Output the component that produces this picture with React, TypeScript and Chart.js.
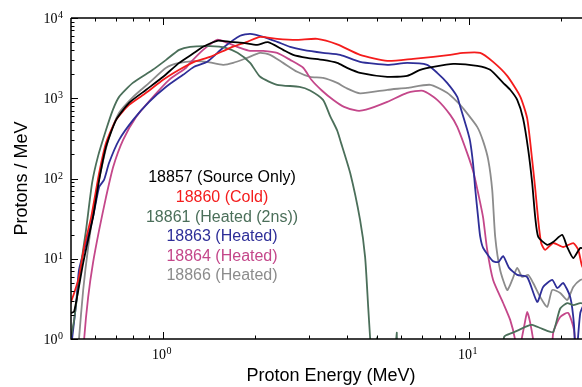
import React, { useEffect, useRef } from "react";
import { Chart, registerables } from "chart.js";

Chart.register(...registerables);

// ---- Data: [energy (MeV), protons / MeV] ----
const S18857: [number, number][] = [
  [0.497, 2.1], [0.512, 2.2], [0.548, 8.9], [0.59, 33], [0.618, 96], [0.651, 248], [0.702, 538],
  [0.774, 876], [0.88, 1275], [1.0, 1850], [1.128, 2760], [1.263, 3680], [1.351, 4375], [1.501, 5200],
  [1.656, 5050], [1.826, 4910], [2.028, 4630], [2.2, 5000], [2.466, 4010], [2.66, 3475], [2.955, 3190],
  [3.33, 3010], [3.704, 2760], [3.99, 2395], [4.4, 2075], [5.4, 1850], [6.27, 1900], [6.92, 2260],
  [7.63, 2465], [8.87, 2685], [10.62, 2535], [11.71, 2260], [12.91, 1555], [13.61, 1275], [14.35, 955],
  [15.0, 560], [15.59, 228], [16.06, 88], [16.43, 33], [16.81, 18.7], [17.98, 14.9], [18.81, 16.2],
  [20.13, 19.8], [20.9, 14.0], [21.88, 10.2], [23.06, 13.6], [24.0, 12.9], [25.0, 12],
];
const S18860: [number, number][] = [
  [0.493, 2.5], [0.512, 3.75], [0.531, 5.9], [0.552, 14], [0.582, 33], [0.618, 117], [0.651, 278],
  [0.702, 538], [0.774, 827], [0.88, 1168], [1.0, 1695], [1.128, 2260], [1.263, 2840], [1.424, 3280],
  [1.656, 4250], [1.882, 5050], [2.075, 5830], [2.358, 5500], [2.741, 5350], [3.186, 5500], [3.704, 4700],
  [4.4, 3475], [5.4, 2925], [6.56, 3100], [7.63, 3280], [8.67, 3475], [9.55, 3680], [10.86, 3680],
  [11.97, 2840], [13.31, 1900], [14.68, 1050], [15.47, 560], [16.06, 170], [16.43, 75], [16.81, 30],
  [17.18, 15.7], [17.7, 12.9], [18.81, 15.7], [20.28, 14.0], [21.88, 15.7], [22.72, 12.9], [23.4, 8.0],
  [24.5, 6],
];
const S18861: [number, number][] = [
  [0.5, 1.06], [0.512, 1.73], [0.54, 8.9], [0.56, 22.9], [0.586, 88], [0.612, 186], [0.651, 404],
  [0.685, 717], [0.718, 1041], [0.796, 1555], [0.925, 2260], [1.023, 3010], [1.128, 4010], [1.225, 4375],
  [1.424, 4450], [1.6, 4250], [1.75, 3680], [1.924, 2760], [2.075, 1850], [2.358, 1470], [2.79, 1390],
  [3.02, 1250], [3.33, 955], [3.513, 600], [3.7, 400], [3.79, 300], [4.085, 117], [4.4, 30.5],
  [4.57, 10.5], [4.677, 2.51], [4.75, 0.97], [4.85, 0.3], [4.95, 0.3], [4.99, 1.05], [5.03, 0.3],
  [5.75, 0.3], [5.8, 1.2], [5.85, 0.3], [12.6, 0.3], [13.0, 1.06], [13.82, 1.19], [15.47, 1.45],
  [16.06, 1.5], [17.06, 1.37], [17.98, 1.26], [18.81, 1.22], [19.83, 2.4], [20.9, 2.8], [21.88, 2.65],
  [23.06, 2.8], [24.5, 2.7],
];
const S18863: [number, number][] = [
  [0.497, 0.6], [0.504, 1.0], [0.52, 2.81], [0.531, 7.25], [0.56, 15.7], [0.59, 33], [0.618, 78.6],
  [0.641, 96], [0.666, 157], [0.718, 303], [0.798, 538], [0.9, 902], [1.023, 1390], [1.162, 1960],
  [1.263, 2465], [1.393, 2840], [1.57, 4250], [1.785, 6000], [1.924, 6350], [2.122, 5830], [2.358, 5050],
  [2.6, 4375], [2.868, 4010], [3.33, 3680], [3.788, 3475], [4.4, 2840], [5.4, 2610], [6.27, 2760],
  [7.29, 2610], [7.86, 2075], [8.47, 1555], [9.14, 1041], [9.35, 781], [9.85, 404], [10.07, 290],
  [10.3, 150], [10.46, 75], [10.7, 32], [10.86, 19], [11.11, 13.6], [11.97, 9.3], [12.46, 9.1],
  [12.91, 10.8], [13.5, 7.7], [14.35, 6.3], [15.47, 5.9], [16.68, 2.9], [17.44, 4.45], [18.67, 5.44],
  [19.4, 4.3], [20.28, 5.0], [21.38, 3.34], [22.0, 1.5], [22.3, 0.5], [23.06, 2.1], [24.0, 3.0],
];
const S18864: [number, number][] = [
  [0.548, 0.5], [0.552, 1.0], [0.569, 3.34], [0.59, 8.87], [0.618, 22.9], [0.651, 59], [0.687, 140],
  [0.74, 303], [0.816, 586], [0.927, 1041], [1.046, 1695], [1.189, 2395], [1.225, 2760], [1.351, 4010],
  [1.501, 5350], [1.619, 4910], [1.785, 4250], [1.924, 3900], [2.122, 3900], [2.358, 3680], [2.6, 3010],
  [2.868, 2400], [3.05, 1700], [3.3, 1250], [3.6, 950], [3.9, 780], [4.3, 700], [4.6, 720], [5.4, 902],
  [6.27, 1168], [7.07, 1237], [7.86, 955], [8.67, 621], [9.14, 440], [9.85, 207], [10.34, 117],
  [10.86, 50], [11.11, 32], [11.45, 12.9], [11.97, 5.44], [12.91, 2.81], [13.61, 1.73], [14.13, 0.97],
  [14.4, 0.5], [14.68, 0.8], [15.2, 1.6], [15.47, 2.17], [15.82, 1.6], [16.3, 0.8], [16.7, 0.3],
  [18.3, 0.3], [18.81, 1.19], [19.83, 1.88], [21.06, 2.11], [22.0, 1.3], [22.5, 0.5], [23.5, 0.3],
];
const S18866: [number, number][] = [
  [0.525, 0.5], [0.531, 1.0], [0.548, 4.08], [0.569, 14.0], [0.595, 44], [0.627, 128], [0.666, 330],
  [0.718, 658], [0.798, 1041], [0.9, 1555], [1.023, 2400], [1.128, 2750], [1.263, 2900], [1.393, 2840],
  [1.57, 2610], [1.694, 2760], [1.882, 3190], [2.075, 3680], [2.237, 3475], [2.466, 2760], [2.741, 2135],
  [3.021, 1850], [3.33, 1795], [3.704, 1555], [3.95, 1350], [4.4, 1150], [5.4, 1275], [6.27, 1350],
  [7.46, 1470], [8.47, 1168], [9.14, 902], [9.55, 750], [10.62, 440], [11.11, 290], [11.54, 171],
  [11.89, 72], [12.16, 18.7], [12.62, 7.25], [13.31, 4.08], [13.82, 5.44], [14.35, 7.68], [14.9, 5.93],
  [15.59, 6.28], [16.18, 4.99], [17.06, 3.34], [17.98, 2.51], [18.67, 4.08], [19.83, 3.75], [20.9, 3.06],
  [21.88, 4.45], [23.06, 5.44], [24.0, 5.6],
];

const LABELS = [
  "18857 (Source Only)",
  "18860 (Cold)",
  "18861 (Heated (2ns))",
  "18863 (Heated)",
  "18864 (Heated)",
  "18866 (Heated)",
];
const COLORS = ["#000000", "#f41c1c", "#4b6f5a", "#2e2e98", "#c4478a", "#8c8c8c"];
const SERIES = [S18857, S18860, S18861, S18863, S18864, S18866];

const X_MIN = 0.5;
const X_MAX = 25;
const Y_MIN = 1;
const Y_MAX = 10000;
const X_MAJOR = [1, 10];
const X_MAJOR_EXP = ["0", "1"];
const X_MINOR = [0.6, 0.7, 0.8, 0.9, 2, 3, 4, 5, 6, 7, 8, 9, 20];
const Y_MAJOR = [1, 10, 100, 1000, 10000];
const Y_MAJOR_EXP = ["0", "1", "2", "3", "4"];
const Y_MINOR_MULT = [2, 3, 4, 5, 6, 7, 8, 9];

const X_TITLE = "Proton Energy (MeV)";
const Y_TITLE = "Protons / MeV";

const SANS = '"Liberation Sans", Arial, Helvetica, sans-serif';
const SERIF = '"Liberation Serif", "Times New Roman", serif';

const axesPlugin = {
  id: "mplAxes",
  afterDatasetsDraw(chart: any) {
    const { ctx, chartArea: a, scales } = chart;
    const xs = scales.x;
    const ys = scales.y;
    ctx.save();
    ctx.strokeStyle = "#000";
    ctx.lineWidth = 1.5;
    ctx.beginPath();
    ctx.moveTo(a.left, a.top);
    ctx.lineTo(a.right, a.top);
    ctx.moveTo(a.left, a.top);
    ctx.lineTo(a.left, a.bottom);
    ctx.lineTo(a.right, a.bottom);
    ctx.stroke();

    ctx.lineWidth = 1;
    const tick = (x1: number, y1: number, x2: number, y2: number) => {
      ctx.beginPath();
      ctx.moveTo(x1, y1);
      ctx.lineTo(x2, y2);
      ctx.stroke();
    };
    X_MAJOR.forEach((v) => {
      const px = Math.round(xs.getPixelForValue(v)) + 0.5;
      tick(px, a.bottom, px, a.bottom - 7);
      tick(px, a.top, px, a.top + 7);
    });
    X_MINOR.forEach((v) => {
      const px = Math.round(xs.getPixelForValue(v)) + 0.5;
      tick(px, a.bottom, px, a.bottom - 3.5);
      tick(px, a.top, px, a.top + 3.5);
    });
    Y_MAJOR.forEach((v) => {
      const py = Math.round(ys.getPixelForValue(v)) + 0.5;
      tick(a.left, py, a.left + 7, py);
    });
    for (let i = 0; i < Y_MAJOR.length - 1; i++) {
      Y_MINOR_MULT.forEach((m) => {
        const py = Math.round(ys.getPixelForValue(Y_MAJOR[i] * m)) + 0.5;
        tick(a.left, py, a.left + 3.5, py);
      });
    }

    ctx.fillStyle = "#000";
    ctx.textBaseline = "alphabetic";
    ctx.textAlign = "left";
    const baseFont = "14px " + SERIF;
    const supFont = "10px " + SERIF;
    const drawPow = (x0: number, yBase: number, exp: string) => {
      ctx.font = baseFont;
      const wb = ctx.measureText("10").width;
      ctx.fillText("10", x0, yBase);
      ctx.font = supFont;
      ctx.fillText(exp, x0 + wb + 0.5, yBase - 4.5);
    };
    const powWidth = (exp: string) => {
      ctx.font = baseFont;
      const wb = ctx.measureText("10").width;
      ctx.font = supFont;
      return wb + 0.5 + ctx.measureText(exp).width;
    };
    Y_MAJOR.forEach((v, i) => {
      const py = ys.getPixelForValue(v);
      const w = powWidth(Y_MAJOR_EXP[i]);
      drawPow(a.left - 8 - w, py + 4.5, Y_MAJOR_EXP[i]);
    });
    X_MAJOR.forEach((v, i) => {
      const px = xs.getPixelForValue(v);
      const w = powWidth(X_MAJOR_EXP[i]);
      drawPow(px - w / 2 - 1.5, a.bottom + 19.5, X_MAJOR_EXP[i]);
    });

    ctx.font = "18px " + SANS;
    ctx.textAlign = "center";
    ctx.textBaseline = "middle";
    ctx.fillText(X_TITLE, (a.left + a.right) / 2, a.bottom + 37);
    ctx.save();
    ctx.translate(22, (a.top + a.bottom) / 2);
    ctx.rotate(-Math.PI / 2);
    ctx.fillText(Y_TITLE, 0, 0);
    ctx.restore();

    ctx.font = "16px " + SANS;
    ctx.textAlign = "center";
    ctx.textBaseline = "middle";
    const lx = a.left + 151;
    const ly0 = a.top + 160;
    chart.data.datasets.forEach((ds: any, i: number) => {
      ctx.fillStyle = ds.borderColor;
      ctx.fillText(ds.label, lx, ly0 + i * 19.6);
    });
    ctx.restore();
  },
};

export default function App() {
  const ref = useRef<HTMLCanvasElement | null>(null);
  useEffect(() => {
    if (!ref.current) return;
    const chart = new Chart(ref.current, {
      type: "line",
      data: {
        datasets: SERIES.map((s, i) => ({
          label: LABELS[i],
          data: s.map(([x, y]) => ({ x, y })),
          borderColor: COLORS[i],
          backgroundColor: COLORS[i],
          borderWidth: 1.8,
          pointRadius: 0,
          tension: 0.2,
          fill: false,
        })),
      },
      options: {
        responsive: false,
        animation: false,
        events: [],
        layout: { padding: { left: 71, top: 18, right: 9, bottom: 48 } },
        plugins: { legend: { display: false }, tooltip: { enabled: false } },
        scales: {
          x: { type: "logarithmic", min: X_MIN, max: X_MAX, display: false },
          y: { type: "logarithmic", min: Y_MIN, max: Y_MAX, display: false },
        },
      },
      plugins: [axesPlugin],
    });
    return () => chart.destroy();
  }, []);
  return (
    <div
      style={{
        position: "fixed",
        left: 0,
        top: 0,
        width: 582,
        height: 387,
        overflow: "hidden",
        background: "#fff",
      }}
    >
      <canvas ref={ref} width={600} height={387} style={{ width: 600, height: 387, display: "block" }} />
    </div>
  );
}
